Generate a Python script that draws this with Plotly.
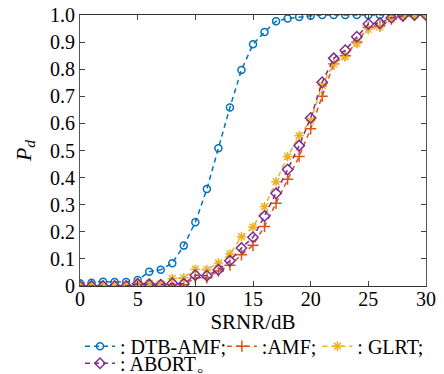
import plotly.graph_objects as go

snr = list(range(0, 31))
dtb_amf = [0.01, 0.012, 0.016, 0.015, 0.015, 0.022, 0.053, 0.06, 0.084, 0.149, 0.235,
           0.358, 0.508, 0.659, 0.797, 0.892, 0.937, 0.977, 0.987, 0.993, 0.997,
           1.0, 1.0, 1.0, 1.0, 1.0, 1.0, 1.0, 1.0, 1.0, 1.0]
amf = [0.0, 0.0, 0.0, 0.0, 0.0, 0.005, 0.005, 0.004, 0.005, 0.005, 0.03,
       0.03, 0.055, 0.077, 0.115, 0.15, 0.22, 0.305, 0.394, 0.478, 0.58,
       0.70, 0.82, 0.85, 0.90, 0.955, 0.96, 0.985, 0.995, 1.0, 1.0]
glrt = [0.0, 0.0, 0.0, 0.0, 0.0, 0.01, 0.01, 0.008, 0.028, 0.03, 0.062,
        0.06, 0.085, 0.118, 0.182, 0.217, 0.293, 0.385, 0.478, 0.554, 0.61,
        0.74, 0.82, 0.846, 0.895, 0.947, 0.955, 0.985, 0.995, 1.0, 1.0]
abort = [0.0, 0.0, 0.0, 0.0, 0.0, 0.008, 0.006, 0.005, 0.01, 0.008, 0.04,
         0.038, 0.06, 0.093, 0.14, 0.18, 0.258, 0.342, 0.43, 0.518, 0.62,
         0.752, 0.84, 0.87, 0.92, 0.967, 0.97, 0.99, 0.997, 1.0, 1.0]

names = [": DTB-AMF;", ":AMF;", ": GLRT;", ": ABORT\u3002"]
colors = ["#0072BD", "#D95319", "#EDB120", "#7E2F8E"]
symbols = ["circle-open", "cross-thin-open", "asterisk-open", "diamond-open"]
sizes = [7, 8, 8, 8]
series = [dtb_amf, amf, glrt, abort]
legend_ids = ["legend", "legend2", "legend3", "legend4"]

y_ticks = [i / 10 for i in range(11)]
y_labels = ["0"] + [f"{v:.1f}" for v in y_ticks[1:]]
x_ticks = [0, 5, 10, 15, 20, 25, 30]

fig = go.Figure()
for n, c, s, sz, ys, lg in zip(names, colors, symbols, sizes, series, legend_ids):
    fig.add_trace(go.Scatter(
        x=snr, y=ys, name=n, mode="lines+markers", legend=lg,
        line=dict(color=c, width=1.5, dash="5px,4px"),
        marker=dict(symbol=s, size=sz, color=c, line=dict(color=c, width=1.5)),
    ))

serif = "Liberation Serif"
lfont = dict(family=serif, size=20, color="black")


def leg(x, y):
    return dict(orientation="h", x=x, y=y, xanchor="left", yanchor="middle",
                font=lfont, itemwidth=30, bgcolor="rgba(0,0,0,0)", borderwidth=0)


fig.update_layout(
    width=444, height=374,
    margin=dict(l=72, r=26, t=7, b=96, autoexpand=False),
    paper_bgcolor="white", plot_bgcolor="white",
    font=dict(family=serif, size=20, color="black"),
    showlegend=True,
    legend=leg(0.0, -0.222),
    legend2=leg(0.41, -0.222),
    legend3=leg(0.686, -0.222),
    legend4=leg(0.0, -0.285),
)
fig.update_xaxes(range=[0, 30], tickvals=x_ticks, ticks="inside", ticklen=5,
                 showline=True, linecolor="#333", linewidth=1, mirror="ticks",
                 showgrid=False, zeroline=False, ticklabeloverflow="allow",
                 ticklabelstandoff=-5,
                 title=dict(text="SRNR/dB", font=dict(family=serif, size=21), standoff=0),
                 tickfont=dict(family=serif, size=20))
fig.update_yaxes(range=[0, 1], tickvals=y_ticks, ticktext=y_labels, ticks="inside",
                 ticklen=5, showline=True, linecolor="#555", linewidth=1.2, mirror="ticks",
                 showgrid=False, zeroline=False, ticklabeloverflow="allow",
                 title=dict(text="<i>P</i><sub><i>d</i></sub>", font=dict(family=serif, size=22), standoff=12),
                 tickfont=dict(family=serif, size=20))
fig.write_html("out.html")
